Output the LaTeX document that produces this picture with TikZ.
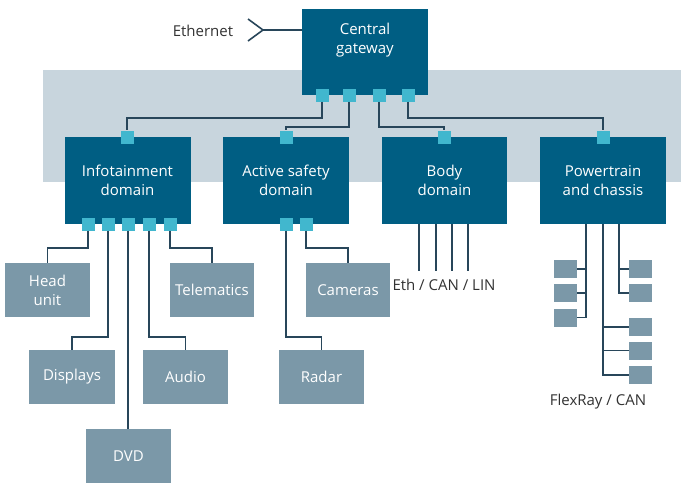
\documentclass[tikz,border=0pt]{standalone}
\usepackage{fontspec}
\setmainfont{Open Sans}
\definecolor{domc}{RGB}{0,94,131}
\definecolor{portc}{RGB}{65,183,206}
\definecolor{bandc}{RGB}{200,213,221}
\definecolor{devc}{RGB}{123,152,168}
\definecolor{wirec}{RGB}{40,70,90}
\definecolor{txtc}{RGB}{50,50,50}
\begin{document}
\begin{tikzpicture}[x=1pt,y=-1pt,
  font=\fontsize{15}{19}\selectfont,
  dom/.style={fill=domc, text=white, minimum width=126pt, minimum height=87pt, align=center, inner sep=0pt},
  dev/.style={fill=devc, text=white, minimum width=85pt, minimum height=54pt, align=center, inner sep=0pt},
  port/.style={fill=portc, minimum size=13pt, inner sep=0pt},
  sm/.style={fill=devc, minimum width=23pt, minimum height=18pt, inner sep=0pt},
  wire/.style={draw=wirec, line width=1.6pt},
  lbl/.style={text=txtc, inner sep=0pt}]
\useasboundingbox (0,0) rectangle (681,483);
\fill[bandc] (43,70) rectangle (681,182);

% domain boxes
\node[dom, minimum height=86pt] (gw) at (365,52) {};
\node[text=white, align=center, inner sep=0pt] (gwt) at (365,40) {Central\\gateway};
\node[dom] (info) at (127.5,180.5) {Infotainment\\domain};
\node[dom] (safe) at (286,180.5) {Active safety\\domain};
\node[dom, minimum width=125pt] (body) at (444.5,180.5) {Body\\domain};
\node[dom] (power) at (603,180.5) {Powertrain\\and chassis};

% ports
\node[port] (gp1) at (322,95) {};
\node[port] (gp2) at (349,95) {};
\node[port] (gp3) at (379,95) {};
\node[port] (gp4) at (408,95) {};
\node[port] (ip0) at (127,137) {};
\node[port] (sp0) at (286,137) {};
\node[port] (bp0) at (444,137) {};
\node[port] (pp0) at (603,137) {};
\node[port] (ip1) at (88,224) {};
\node[port] (ip2) at (108,224) {};
\node[port] (ip3) at (128,224) {};
\node[port] (ip4) at (149,224) {};
\node[port] (ip5) at (170,224) {};
\node[port] (sp1) at (286,224) {};
\node[port] (sp2) at (306,224) {};

% devices
\node[dev] (head) at (47.5,290) {Head\\unit};
\node[dev, minimum width=84pt] (tele) at (212,290) {Telematics};
\node[dev, minimum width=84pt] (cam) at (348,290) {Cameras};
\node[dev, minimum width=86pt] (disp) at (72,377) {Displays};
\node[dev] (audio) at (185.5,377) {Audio};
\node[dev] (radar) at (321.5,377) {Radar};
\node[dev] (dvd) at (128.5,456) {DVD};

% small powertrain boxes
\node[sm] (sb1) at (565.5,269) {};
\node[sm] (sb2) at (565.5,293) {};
\node[sm] (sb3) at (565.5,317.5) {};
\node[sm] (sb7) at (640.5,269) {};
\node[sm] (sb8) at (640.5,293) {};
\node[sm] (sb4) at (640.5,327) {};
\node[sm] (sb5) at (640.5,350.5) {};
\node[sm] (sb6) at (640.5,375) {};

% gateway connections
\coordinate (j1) at (127,118);
\coordinate (j2) at (286,127);
\coordinate (j3) at (444,127);
\coordinate (j4) at (603,118);
\draw[wire] (gp1.south) |- (j1) -- (ip0.north);
\draw[wire] (gp2.south) |- (j2) -- (sp0.north);
\draw[wire] (gp3.south) |- (j3) -- (bp0.north);
\draw[wire] (gp4.south) |- (j4) -- (pp0.north);

% Ethernet
\node[lbl] (eth) at (203,31) {Ethernet};
\coordinate (ec) at (263,30);
\coordinate (ea) at (248,19);
\coordinate (eb) at (248,41);
\draw[wire, line join=miter] (ea) -- (ec) -- (eb);
\draw[wire] (ec) -- (ec -| gw.west);

% device connections
\coordinate (lv1) at (0,248);
\coordinate (lv2) at (0,337);
\draw[wire] (ip1.south) |- (lv1 -| head.north) -- (head.north);
\draw[wire] (ip2.south) |- (lv2 -| disp.north) -- (disp.north);
\draw[wire] (ip3.south) -- (ip3.south |- dvd.north);
\draw[wire] (ip4.south) |- (lv2 -| audio.north) -- (audio.north);
\draw[wire] (ip5.south) |- (lv1 -| tele.north) -- (tele.north);
\draw[wire] (sp2.south) |- (lv1 -| cam.north) -- (cam.north);
\draw[wire] (sp1.south) |- (lv2 -| radar.north) -- (radar.north);

% body bus lines
\coordinate (bl1) at (419,271);
\coordinate (bl2) at (436,271);
\coordinate (bl3) at (452,271);
\coordinate (bl4) at (468,271);
\foreach \b in {bl1,bl2,bl3,bl4}{\draw[wire] (\b |- body.south) -- (\b);}
\node[lbl] (bus1) at (444,285) {Eth / CAN / LIN};

% powertrain bus lines
\coordinate (pl1) at (586,0);
\coordinate (pl2) at (603,0);
\coordinate (pl3) at (619,0);
\draw[wire] (pl1 |- power.south) |- (sb3.east);
\draw[wire] (sb1.east) -- (sb1.east -| pl1);
\draw[wire] (sb2.east) -- (sb2.east -| pl1);
\draw[wire] (pl2 |- power.south) |- (sb6.west);
\draw[wire] (sb4.west) -- (sb4.west -| pl2);
\draw[wire] (sb5.west) -- (sb5.west -| pl2);
\draw[wire] (pl3 |- power.south) |- (sb8.west);
\draw[wire] (sb7.west) -- (sb7.west -| pl3);
\node[lbl] (bus2) at (598,402) {FlexRay / CAN};
\end{tikzpicture}
\end{document}
